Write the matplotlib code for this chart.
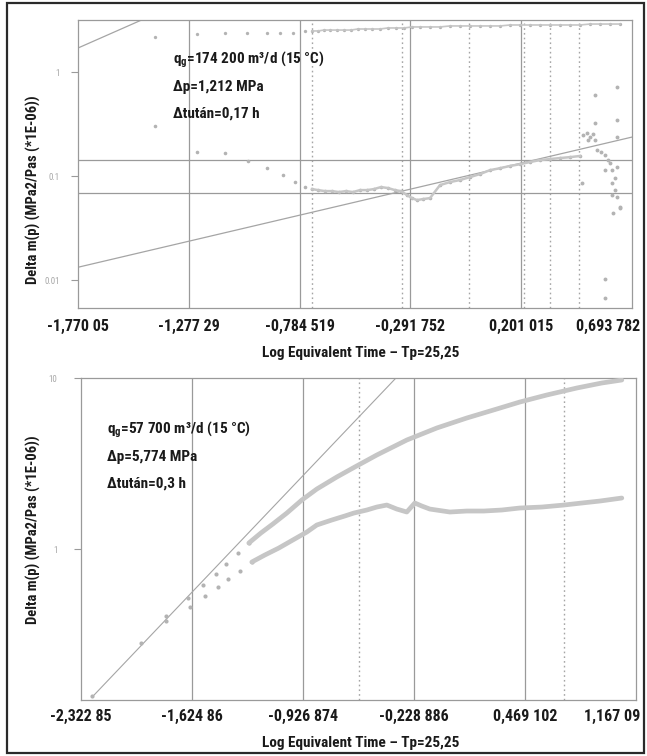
import matplotlib
matplotlib.use("Agg")
import matplotlib.pyplot as plt
from matplotlib import font_manager
from matplotlib.patches import Rectangle

# ---------------- data: upper panel (buildup 1) ----------------
top_xticks = [-1.77005, -1.27729, -0.784519, -0.291752, 0.201015, 0.693782]
top_xlabels = ["-1,770 05", "-1,277 29", "-0,784 519", "-0,291 752", "0,201 015", "0,693 782"]
top_yticks = [0.01, 0.1, 1]
top_ylabels = ["0.01", "0.1", "1"]

# pressure change
top_dp_x = [-1.4276, -1.2408, -1.1163, -1.0184, -0.9295, -0.8717, -0.8139, -0.7605, -0.7294,
            -0.7027, -0.6761, -0.6494, -0.6182, -0.5871, -0.5559, -0.5248, -0.4937, -0.4625,
            -0.4270, -0.3914, -0.3558, -0.3202, -0.2847, -0.2491, -0.2046, -0.1601, -0.1157,
            -0.0712, -0.0267, 0.0177, 0.0622, 0.1067, 0.1512, 0.1956, 0.2401, 0.2846, 0.3291,
            0.3735, 0.4180, 0.4625, 0.5070, 0.5514, 0.5959, 0.6404]
top_dp_y = [2.17, 2.32, 2.37, 2.37, 2.37, 2.37, 2.37, 2.48, 2.48, 2.48, 2.53, 2.53, 2.53, 2.53,
            2.53, 2.59, 2.59, 2.59, 2.59, 2.65, 2.65, 2.65, 2.71, 2.71, 2.71, 2.71, 2.77, 2.77,
            2.77, 2.77, 2.77, 2.77, 2.83, 2.83, 2.83, 2.83, 2.83, 2.83, 2.83, 2.83, 2.89, 2.89,
            2.89, 2.89]

# derivative
top_der_x = [-1.4276, -1.2408, -1.1163, -1.0139, -0.9295, -0.8584, -0.8050, -0.7605,
             -0.7294, -0.7027, -0.6717, -0.6405, -0.6094, -0.5783, -0.5472, -0.5160, -0.4849,
             -0.4538, -0.4224, -0.3914, -0.3602, -0.3335, -0.3068, -0.2847, -0.2624, -0.2357,
             -0.2046, -0.1601, -0.1157, -0.0712, -0.0267, 0.0177, 0.0622, 0.1067, 0.1512,
             0.1956, 0.2401, 0.2846, 0.3291, 0.3735, 0.4180, 0.4625]
top_der_y = [0.303, 0.170, 0.166, 0.139, 0.119, 0.102, 0.0876, 0.0784,
             0.0750, 0.0733, 0.0717, 0.0717, 0.0702, 0.0717, 0.0702, 0.0733, 0.0733,
             0.0750, 0.0784, 0.0767, 0.0733, 0.0717, 0.0656, 0.0614, 0.0588, 0.0601,
             0.0614, 0.0819, 0.0876, 0.0916, 0.0978, 0.1045, 0.114, 0.119, 0.125,
             0.130, 0.1364, 0.1425, 0.1457, 0.149, 0.152, 0.156]

# late-time scatter of the derivative
top_tail_x = [0.4714, 0.4758, 0.4936, 0.4981, 0.5070, 0.5203, 0.5292, 0.5292, 0.5292, 0.5381,
              0.5559, 0.5737, 0.5737, 0.5737, 0.5737, 0.5870, 0.5959, 0.6048, 0.6048, 0.6048,
              0.6093, 0.6182, 0.6182, 0.6271, 0.6271, 0.6271, 0.6271, 0.6271, 0.6404, 0.6404]
top_tail_y = [0.0857, 0.248, 0.259, 0.222, 0.237, 0.253, 0.222, 0.601, 0.323, 0.178,
              0.170, 0.159, 0.114, 0.0102, 0.0067, 0.1425, 0.133, 0.114, 0.0857, 0.0656,
              0.0441, 0.0957, 0.0733, 0.718, 0.345, 0.237, 0.122, 0.0628, 0.0504, 0.0492]

# straight-line guides
top_unit_x = [-1.77005, -1.45]
top_unit_y = [1.70, 3.43]
top_half_x = [-1.77005, 0.693782]
top_half_y = [0.0133, 0.237]
top_hlines = [0.1426, 0.0687]
top_dotted = [-0.7294, -0.3291, -0.0312, 0.2134, 0.3291, 0.4581]

# ---------------- data: lower panel (buildup 2) ----------------
bot_xticks = [-2.32285, -1.62486, -0.926874, -0.228886, 0.469102, 1.16709]
bot_xlabels = ["-2,322 85", "-1,624 86", "-0,926 874", "-0,228 886", "0,469 102", "1,167 09"]
bot_yticks = [1, 10]
bot_ylabels = ["1", "10"]

bot_dp_x = [-2.2537, -1.9456, -1.7884, -1.6500, -1.5557, -1.4739, -1.4085, -1.3330, -1.2676,
            -1.1921, -1.1166, -1.0286, -0.9343, -0.8400, -0.7143, -0.6011, -0.4627, -0.2741,
            -0.0854, 0.1032, 0.2919, 0.4365, 0.6063, 0.7949, 0.9521, 1.0779]
bot_dp_y = [0.1382, 0.2820, 0.4057, 0.5170, 0.6161, 0.7141, 0.8172, 0.9476, 1.084, 1.240,
            1.400, 1.623, 1.934, 2.243, 2.637, 3.017, 3.546, 4.339, 5.101, 5.836, 6.588,
            7.237, 7.955, 8.739, 9.349, 9.734]

bot_der_x = [-1.7884, -1.6375, -1.5431, -1.4614, -1.3959, -1.3204, -1.2487, -1.1670, -1.0789,
             -0.9909, -0.9028, -0.8400, -0.7457, -0.6639, -0.6073, -0.5256, -0.4627, -0.3998,
             -0.3370, -0.2741, -0.2238, -0.1798, -0.1295, -0.0037, 0.1032, 0.2101, 0.3233,
             0.4365, 0.5749, 0.7132, 0.8264, 0.9396, 1.0779]
bot_der_y = [0.3794, 0.4579, 0.5311, 0.5995, 0.6677, 0.7437, 0.8395, 0.9224, 1.0135,
             1.129, 1.257, 1.382, 1.478, 1.560, 1.623, 1.691, 1.760, 1.808,
             1.713, 1.646, 1.858, 1.784, 1.713, 1.646, 1.668, 1.668, 1.691,
             1.737, 1.760, 1.808, 1.858, 1.908, 1.987]

bot_unit_x = [-2.2537, -0.30]
bot_unit_y = [0.136, 11.0]
bot_dotted = [-0.5747, 0.7132]

# ---------------- styling ----------------
def pick_family():
    names = {f.name for f in font_manager.fontManager.ttflist}
    for cand in ["Roboto Condensed", "Liberation Sans Narrow", "Open Sans Condensed"]:
        if cand in names:
            return cand, "normal"
    return "DejaVu Sans", "condensed"

FAM, STRETCH = pick_family()
plt.rcParams["font.family"] = [FAM, "DejaVu Sans"]
plt.rcParams["font.stretch"] = STRETCH

DOT = "#b3b3b3"
BAND = "#c6c6c6"
GRID = "#9a9a9a"
GUIDE = "#a5a5a5"
TICKTXT = "#a8a8a8"

W, H = 647, 756
fig = plt.figure(figsize=(W / 100, H / 100), dpi=100)
fig.patch.set_facecolor("white")

ax1 = fig.add_axes([78 / W, 1 - 308 / H, 554 / W, 288 / H])
ax2 = fig.add_axes([81 / W, 1 - 700 / H, 555 / W, 322 / H])


def style_axes(ax, xticks, xlabels, yticks, ylabels, ylim, solid, dotted, ypad, lab_dy):
    ax.set_yscale("log")
    ax.set_xlim(xticks[0], xticks[-1])
    ax.set_ylim(*ylim)
    ax.set_xticks(xticks)
    ax.set_yticks(yticks)
    ax.set_yticklabels(ylabels)
    ax.yaxis.set_minor_locator(matplotlib.ticker.NullLocator())
    ax.tick_params(axis="x", length=0, labelbottom=False)
    ax.tick_params(axis="y", length=5, width=0.8, color=GRID, pad=ypad,
                   labelsize=6.5, labelcolor=TICKTXT)
    for sp in ax.spines.values():
        sp.set_color(GRID)
        sp.set_linewidth(0.9)
    for xv in solid:
        ax.axvline(xv, color=GRID, lw=0.9, zorder=1)
    for xv in dotted:
        ax.axvline(xv, color=GUIDE, lw=1.0, ls=(0, (1.2, 2.2)), zorder=1)
    n = len(xticks)
    for i, (xv, lab) in enumerate(zip(xticks, xlabels)):
        dx = -17 if i == n - 1 else 0
        ax.annotate(lab, xy=(xv, 0), xycoords=ax.get_xaxis_transform(),
                    xytext=(dx, lab_dy), textcoords="offset points",
                    ha="center", va="center", fontsize=11.5, fontweight="bold",
                    color="#1a1a1a", annotation_clip=False)


# upper panel
style_axes(ax1, top_xticks, top_xlabels, top_yticks, top_ylabels, (0.0054, 3.16),
           top_xticks[1:-1], top_dotted, 8, -13.5)
for yv in top_hlines:
    ax1.axhline(yv, color=GRID, lw=0.9, zorder=1)
ax1.plot(top_unit_x, top_unit_y, color=GUIDE, lw=0.9, zorder=2)
ax1.plot(top_half_x, top_half_y, color=GUIDE, lw=0.9, zorder=2)
ax1.plot(top_dp_x, top_dp_y, ls="none", marker="o", ms=2.4, mec="none", mfc=DOT, zorder=3)
ax1.plot(top_dp_x[8:], top_dp_y[8:], color=BAND, lw=1.2, zorder=3)
ax1.plot(top_der_x, top_der_y, ls="none", marker="o", ms=2.6, mec="none", mfc=DOT, zorder=3)
ax1.plot(top_der_x[8:], top_der_y[8:], color=BAND, lw=1.8, zorder=3)
ax1.plot(top_tail_x, top_tail_y, ls="none", marker="o", ms=2.8, mec="none", mfc=DOT, zorder=3)

# lower panel
style_axes(ax2, bot_xticks, bot_xlabels, bot_yticks, bot_ylabels, (0.131, 10.0),
           bot_xticks[1:-1], bot_dotted, 12, -12)
ax2.plot(bot_unit_x, bot_unit_y, color=GUIDE, lw=0.8, zorder=2)
ax2.plot(bot_dp_x[:9], bot_dp_y[:9], ls="none", marker="o", ms=3.0, mec="none", mfc=DOT, zorder=3)
ax2.plot(bot_dp_x[8:], bot_dp_y[8:], color=BAND, lw=3.4, solid_capstyle="round", zorder=3)
ax2.plot(bot_der_x[:7], bot_der_y[:7], ls="none", marker="o", ms=3.0, mec="none", mfc=DOT, zorder=3)
ax2.plot(bot_der_x[6:], bot_der_y[6:], color=BAND, lw=3.4, solid_capstyle="round", zorder=3)

# axis titles
title_kw = dict(fontsize=11, fontweight="bold", color="#1a1a1a", ha="center", va="center")
fig.text(361 / W, 1 - 353 / H, "Log Equivalent Time – Tp=25,25", **title_kw)
fig.text(361 / W, 1 - 743 / H, "Log Equivalent Time – Tp=25,25", **title_kw)
ylab_kw = dict(fontsize=10.5, fontweight="bold", color="#1a1a1a", ha="center", va="center",
               rotation=90)
fig.text(33 / W, 1 - 190 / H, "Delta m(p) (MPa2/Pas (*1E-06))", **ylab_kw)
fig.text(33 / W, 1 - 530 / H, "Delta m(p) (MPa2/Pas (*1E-06))", **ylab_kw)

# test conditions
info_kw = dict(fontsize=11, fontweight="bold", color="#1a1a1a", ha="left", va="center")
top_info = ["q$_{\\mathregular{g}}$=174 200 m³/d (15 °C)", "Δp=1,212 MPa", "Δtután=0,17 h"]
bot_info = ["q$_{\\mathregular{g}}$=57 700 m³/d (15 °C)", "Δp=5,774 MPa", "Δtután=0,3 h"]
for i, s in enumerate(top_info):
    fig.text(173 / W, 1 - (60 + 27 * i) / H, s, **info_kw)
for i, s in enumerate(bot_info):
    fig.text(107 / W, 1 - (430 + 27 * i) / H, s, **info_kw)

# frame around the whole figure
fig.patches.append(Rectangle((7 / W, 3 / H), 637 / W, 750 / H, transform=fig.transFigure,
                             fill=False, edgecolor="#2a2a2a", lw=1.6))

fig.savefig("out.png", dpi=100)
